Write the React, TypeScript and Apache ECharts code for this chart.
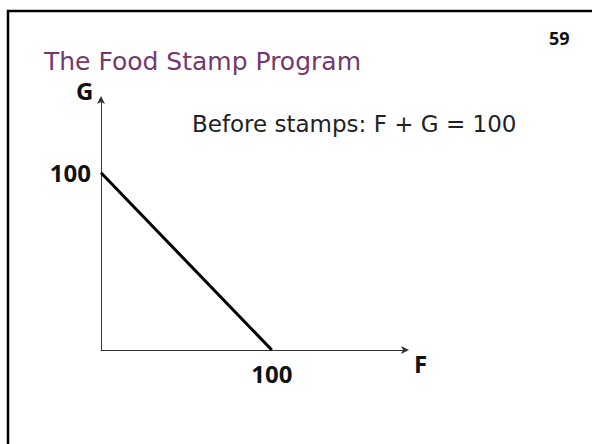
import React, { useEffect, useRef } from "react";
import * as echarts from "echarts";

// Budget line before food stamps: F + G = 100
const budgetF = [0, 100];
const budgetG = [100, 0];
const axisMaxF = 178;
const axisMaxG = 141;
const tickValue = 100;

const titleText = "The Food Stamp Program";
const slideNumber = "59";
const equationText = "Before stamps: F + G = 100";

export default function App() {
  const ref = useRef<HTMLDivElement>(null);

  useEffect(() => {
    if (!ref.current) return;
    const chart = echarts.init(ref.current, undefined, { renderer: "svg" });
    const labelStyle = {
      fontFamily: "Open Sans",
      fontWeight: "bold" as const,
      fontSize: 24,
      color: "#111",
    };
    chart.setOption({
      animation: false,
      backgroundColor: "#fff",
      grid: { left: 101, right: 187, top: 100, bottom: 94 },
      xAxis: {
        type: "value",
        min: 0,
        max: axisMaxF,
        interval: tickValue,
        splitLine: { show: false },
        axisTick: { show: false },
        axisLine: {
          lineStyle: { color: "#333", width: 1 },
          symbol: ["none", "arrow"],
          symbolSize: [6, 8],
          symbolOffset: [0, 4],
        },
        axisLabel: {
          ...labelStyle,
          margin: 11,
          showMinLabel: false,
          showMaxLabel: false,
          formatter: (v: number) => (v === tickValue ? String(v) : ""),
        },
      },
      yAxis: {
        type: "value",
        min: 0,
        max: axisMaxG,
        interval: tickValue,
        splitLine: { show: false },
        axisTick: { show: false },
        axisLine: {
          lineStyle: { color: "#333", width: 1 },
          symbol: ["none", "arrow"],
          symbolSize: [6, 8],
          symbolOffset: [0, 4],
        },
        axisLabel: {
          ...labelStyle,
          margin: 10,
          showMinLabel: false,
          showMaxLabel: false,
          formatter: (v: number) => (v === tickValue ? String(v) : ""),
        },
      },
      series: [
        {
          type: "line",
          data: budgetF.map((f, i) => [f, budgetG[i]]),
          symbol: "none",
          lineStyle: { color: "#000", width: 3 },
          silent: true,
        },
      ],
      graphic: [
        {
          type: "rect",
          shape: { x: 8, y: 11, width: 620, height: 460 },
          style: { fill: "none", stroke: "#000", lineWidth: 2.5 },
          silent: true,
        },
        {
          type: "text",
          x: 44,
          y: 49,
          style: {
            text: titleText,
            fill: "#74386f",
            fontFamily: "DejaVu Sans",
            fontSize: 25,
          },
        },
        {
          type: "text",
          x: 549,
          y: 29,
          style: {
            text: slideNumber,
            fill: "#111",
            fontFamily: "Open Sans",
            fontWeight: "bold",
            fontSize: 18,
          },
        },
        {
          type: "text",
          x: 76,
          y: 78,
          style: {
            text: "G",
            fill: "#111",
            fontFamily: "Open Sans",
            fontWeight: "bold",
            fontSize: 24,
          },
        },
        {
          type: "text",
          x: 414,
          y: 351,
          style: {
            text: "F",
            fill: "#111",
            fontFamily: "Open Sans",
            fontWeight: "bold",
            fontSize: 24,
          },
        },
        {
          type: "text",
          x: 192,
          y: 112,
          style: {
            text: equationText,
            fill: "#222",
            fontFamily: "DejaVu Sans",
            fontSize: 23,
          },
        },
      ],
    });
    return () => chart.dispose();
  }, []);

  return (
    <div style={{ position: "absolute", left: 0, top: 0, width: 592, height: 444 }}>
      <div ref={ref} style={{ width: 592, height: 444 }} />
    </div>
  );
}
